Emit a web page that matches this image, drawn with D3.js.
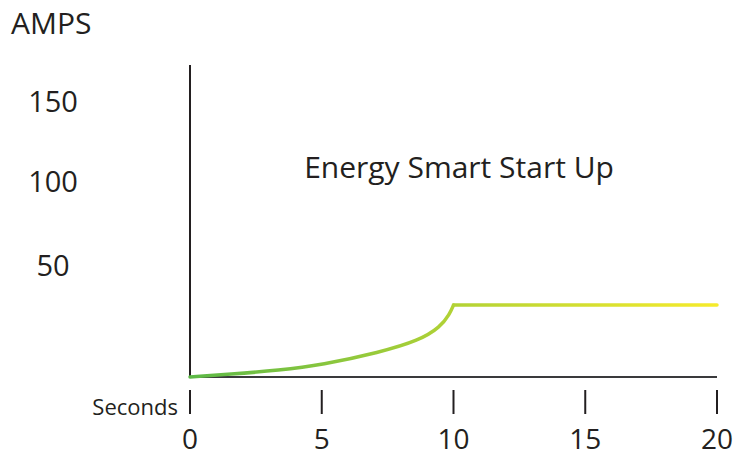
<!DOCTYPE html>
<html><head><meta charset="utf-8">
<script src="https://cdn.jsdelivr.net/npm/d3@7"></script>
<style>body{margin:0;background:#fff}text{font-family:"Open Sans",sans-serif;fill:#231f20}</style>
</head><body><svg id="c" width="752" height="456"></svg>
<script>
const xTicks = [0, 5, 10, 15, 20];
const yTickLabels = [50, 100, 150];
const rampSeconds = [0, 1.5, 3.4, 5, 7.2, 8.7, 9.5, 9.85, 10];
const rampAmps = [0, 1.2, 3.0, 5.4, 11.0, 16.3, 22.3, 28.0, 32.1];
const holdSeconds = [10, 20];
const holdAmps = [32.1, 32.1];

const svg = d3.select("#c");
const x = d3.scaleLinear().domain([0, 20]).range([190, 717]);
const y = d3.scaleLinear().domain([0, 50, 100, 150, 170]).range([377, 265, 181, 101, 65]);

const defs = svg.append("defs");
const g = defs.append("linearGradient").attr("id", "gr").attr("gradientUnits", "userSpaceOnUse")
  .attr("x1", x(0)).attr("x2", x(20)).attr("y1", 0).attr("y2", 0);
g.append("stop").attr("offset", "0%").attr("stop-color", "#5cb947");
g.append("stop").attr("offset", "50%").attr("stop-color", "#b2d235");
g.append("stop").attr("offset", "100%").attr("stop-color", "#f6eb2c");

// axes lines
svg.append("line").attr("x1", x(0)).attr("x2", x(0)).attr("y1", y(170)).attr("y2", y(0))
  .attr("stroke", "#231f20").attr("stroke-width", 2);
svg.append("line").attr("x1", x(0)).attr("x2", x(20)).attr("y1", y(0)).attr("y2", y(0))
  .attr("stroke", "#3a3a3c").attr("stroke-width", 2);

// curve
const ramp = d3.line().x((d, i) => x(rampSeconds[i])).y((d, i) => y(rampAmps[i])).curve(d3.curveBasis);
const hold = d3.line().x((d, i) => x(holdSeconds[i])).y((d, i) => y(holdAmps[i]));
svg.append("path").attr("d", ramp(rampSeconds)).attr("fill", "none")
  .attr("stroke", "url(#gr)").attr("stroke-width", 3.5).attr("stroke-linecap", "round");
svg.append("path").attr("d", hold(holdSeconds)).attr("fill", "none")
  .attr("stroke", "url(#gr)").attr("stroke-width", 3.5).attr("stroke-linecap", "round");

// x ticks
const xt = svg.selectAll(".xt").data(xTicks).enter();
xt.append("line").attr("x1", d => x(d)).attr("x2", d => x(d)).attr("y1", 390).attr("y2", 414)
  .attr("stroke", "#231f20").attr("stroke-width", 2);
xt.append("text").attr("x", d => x(d)).attr("y", 449).attr("text-anchor", "middle")
  .attr("font-size", 28).text(d => d);
svg.append("text").attr("x", 178).attr("y", 415).attr("text-anchor", "end").attr("font-size", 22).text("Seconds");

// y labels
svg.selectAll(".yl").data(yTickLabels).enter().append("text")
  .attr("x", 53).attr("y", d => y(d) + 11).attr("text-anchor", "middle").attr("font-size", 29).text(d => d);
svg.append("text").attr("x", 11).attr("y", 34).attr("font-size", 30).text("AMPS");

svg.append("text").attr("x", 459).attr("y", 178).attr("text-anchor", "middle").attr("font-size", 30)
  .text("Energy Smart Start Up");
</script></body></html>
